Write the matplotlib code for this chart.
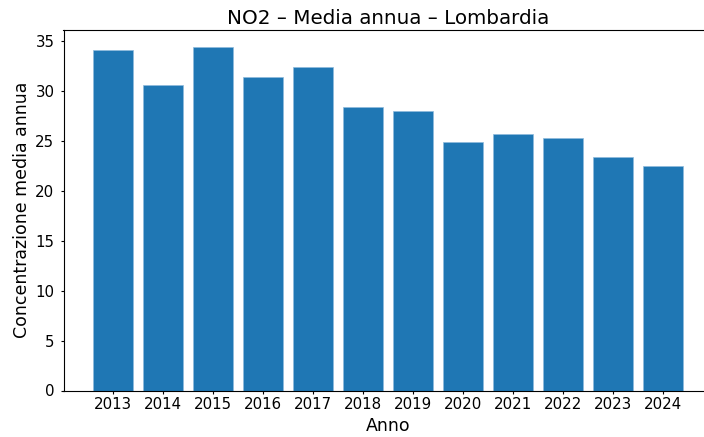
import matplotlib
matplotlib.use("Agg")
import matplotlib.pyplot as plt

anni = [2013, 2014, 2015, 2016, 2017, 2018, 2019, 2020, 2021, 2022, 2023, 2024]
valori = [34.1, 30.6, 34.4, 31.4, 32.4, 28.4, 28.0, 24.9, 25.7, 25.3, 23.4, 22.5]

fig = plt.figure(figsize=(7.04, 4.37), dpi=100)
ax = fig.add_axes([63.5 / 704, (437 - 390.5) / 437, (713 - 63.5) / 704, (390.5 - 30) / 437])
ax.bar(anni, valori, color="#1f77b4", edgecolor="#8fbbdc", linewidth=0.5)
ax.set_xticks(anni)
ax.set_xticklabels([str(a) for a in anni])
ax.set_title("NO2 – Media annua – Lombardia", fontsize=14.3, pad=4)
ax.set_xlabel("Anno", fontsize=12.5, labelpad=3)
ax.set_ylabel("Concentrazione media annua", fontsize=12.5, labelpad=3)
ax.tick_params(axis="x", labelsize=10.8, length=2.5, pad=2.5)
ax.tick_params(axis="y", labelsize=10.8, length=2.5, pad=4)
fig.savefig("out.png", dpi=100)
